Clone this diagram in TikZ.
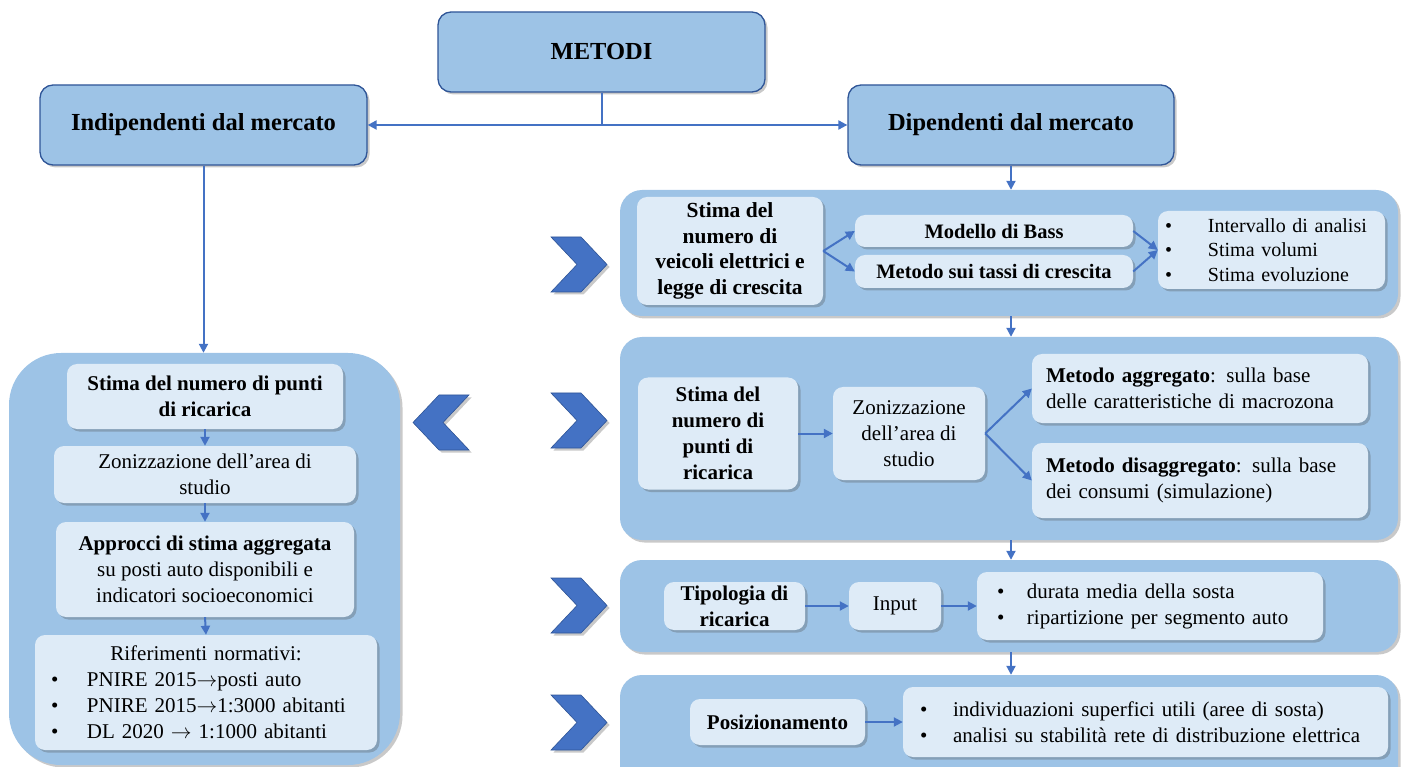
\documentclass[tikz,border=0pt]{standalone}
\usepackage{fontspec}
\setmainfont{Liberation Serif}
\usetikzlibrary{arrows.meta,shadows}
\definecolor{panelblue}{HTML}{9DC3E6}
\definecolor{innerblue}{HTML}{DEEBF7}
\definecolor{linkblue}{HTML}{4472C4}
\definecolor{edgeblue}{HTML}{2F5597}
% bullet entry: fixed-width bullet column followed by the item text
\newcommand\blt[2]{\makebox[#1][l]{\textbullet}#2}
% long arrow used inside the regulatory references
\newcommand\ra{\ensuremath{\rightarrow}}
\begin{document}
\begin{tikzpicture}[x=1pt,y=-1pt,
  softshadow/.style={drop shadow={shadow xshift=2.5pt,shadow yshift=-2.5pt,opacity=0.3,fill=black!70}},
  headbox/.style={draw=edgeblue,line width=1.3pt,fill=panelblue,rounded corners=13pt,softshadow,inner sep=0pt,
    font=\bfseries\fontsize{24.5}{29}\selectfont},
  panel/.style={fill=panelblue,rounded corners=22pt,softshadow,inner sep=0pt},
  card/.style={fill=innerblue,rounded corners=10pt,softshadow,inner sep=3pt,align=center},
  txt/.style={font=\fontsize{21}{26}\selectfont},
  btxt/.style={font=\bfseries\fontsize{21}{26}\selectfont},
  link/.style={draw=linkblue,line width=2pt,-{Triangle[length=9pt,width=9pt]}},
  bare/.style={draw=linkblue,line width=2pt},
  chevron/.style={fill=linkblue,draw=edgeblue,line width=0.6pt,softshadow},
  chevR/.pic={\path[chevron] (0,0)--(30,0)--(56,27.5)--(30,55)--(0,55)--(26,27.5)--cycle;},
  chevL/.pic={\path[chevron] (56,0)--(26,0)--(0,27.5)--(26,55)--(56,55)--(30,27.5)--cycle;}
]
\useasboundingbox (0,0) rectangle (1401,767);

% ---- top level ----
\node[headbox,minimum width=327pt,minimum height=80pt] (metodi) at (601.5,52) {METODI};
\node[headbox,minimum width=327pt,minimum height=80pt] (indip) at (203.5,125) {Indipendenti dal mercato};
\node[headbox,minimum width=326pt,minimum height=80pt] (dip) at (1011,125) {Dipendenti dal mercato};

\coordinate (split) at (metodi.south |- indip.east);
\draw[bare] (metodi.south) -- (split);
\draw[link] (split) -- (indip.east);
\draw[link] (split) -- (dip.west);

% ---- market-independent branch ----
\node[panel,rounded corners=52pt,minimum width=391pt,minimum height=412pt] (lpanel) at (204.5,559) {};
\draw[link] (indip.south) -- (indip.south |- lpanel.north);

\node[card,btxt,minimum width=276pt,minimum height=65pt] (l1) at (205,396.5)
  {Stima del numero di punti\\di ricarica};
\node[card,txt,minimum width=302pt,minimum height=57pt] (l2) at (205,474.5)
  {Zonizzazione dell’area di\\studio};
\node[card,txt,minimum width=298pt,minimum height=95pt] (l3) at (205,569.5)
  {\textbf{Approcci di stima aggregata}\\su posti auto disponibili e\\indicatori socioeconomici};
\node[card,txt,align=left,text width=310pt,inner xsep=16pt,minimum height=115pt] (l4) at (206,692.5)
  {\makebox[310pt]{Riferimenti normativi:}\\
   \blt{36pt}{PNIRE 2015\ra posti auto}\\
   \blt{36pt}{PNIRE 2015\ra 1:3000 abitanti}\\
   \blt{36pt}{DL 2020 \ra{} 1:1000 abitanti}};
\draw[link] (l1.south) -- (l2.north);
\draw[link] (l2.south) -- (l3.north);
\draw[link] (l3.south) -- (l4.north);

\pic at (413,395) {chevL};

% ---- market-dependent branch ----
\node[panel,minimum width=778pt,minimum height=126pt] (p1) at (1009,253) {};
\node[panel,minimum width=778pt,minimum height=203pt] (p2) at (1009,438.5) {};
\node[panel,minimum width=778pt,minimum height=92pt] (p3) at (1009,606) {};
\node[panel,minimum width=778pt,minimum height=115pt] (p4) at (1009,732.5) {};

\draw[link] (dip.south) -- (dip.south |- p1.north);
\draw[link] (p1.south -| dip.south) -- (p2.north -| dip.south);
\draw[link] (p2.south -| dip.south) -- (p3.north -| dip.south);
\draw[link] (p3.south -| dip.south) -- (p4.north -| dip.south);

% stage 1: vehicle estimate
\node[card,font=\bfseries\fontsize{21.5}{25.7}\selectfont,minimum width=186pt,minimum height=108pt] (v1) at (730,251)
  {Stima del\\numero di\\veicoli elettrici e\\legge di crescita};
\node[card,font=\bfseries\fontsize{20.5}{24}\selectfont,minimum width=278pt,minimum height=32pt] (bass) at (994,231)
  {Modello di Bass};
\node[card,font=\bfseries\fontsize{20.5}{24}\selectfont,minimum width=278pt,minimum height=33pt] (tassi) at (994,271.5)
  {Metodo sui tassi di crescita};
\node[card,font=\fontsize{20}{24.5}\selectfont,align=left,text width=213pt,inner xsep=7pt,minimum height=78pt] (b1) at (1271.5,250)
  {\blt{43pt}{Intervallo di analisi}\\\blt{43pt}{Stima volumi}\\\blt{43pt}{Stima evoluzione}};
\draw[link] (v1.east) -- (bass.west);
\draw[link] (v1.east) -- (tassi.west);
\draw[link] (bass.east) -- (b1.west);
\draw[link] (tassi.east) -- (b1.west);
\pic at (551,237) {chevR};

% stage 2: charging points
\node[card,btxt,minimum width=160pt,minimum height=112pt] (s2) at (718,433.5)
  {Stima del\\numero di\\punti di\\ricarica};
\node[card,txt,minimum width=152pt,minimum height=93pt] (z2) at (909,433.5)
  {Zonizzazione\\dell’area di\\studio};
\node[card,txt,align=left,text width=308pt,inner xsep=14pt,minimum height=69pt] (ag) at (1200,388.5)
  {\textbf{Metodo aggregato}: sulla base\\delle caratteristiche di macrozona};
\node[card,txt,align=left,text width=308pt,inner xsep=14pt,minimum height=75pt] (dis) at (1200,480.5)
  {\textbf{Metodo disaggregato}: sulla base\\dei consumi (simulazione)};
\draw[link] (s2.east) -- (z2.west);
\draw[link] (z2.east) -- (ag.west);
\draw[link] (z2.east) -- (dis.west);
\pic at (551,393) {chevR};

% stage 3: charging type
\node[card,btxt,minimum width=141pt,minimum height=48pt] (tip) at (734.5,606)
  {Tipologia di\\ricarica};
\node[card,txt,minimum width=92pt,minimum height=48pt] (inp) at (895,606) {Input};
\node[card,txt,align=left,text width=306pt,inner xsep=20pt,minimum height=68pt] (b3) at (1150,606)
  {\blt{30pt}{durata media della sosta}\\\blt{30pt}{ripartizione per segmento auto}};
\draw[link] (tip.east) -- (inp.west);
\draw[link] (inp.east) -- (b3.west);
\pic at (551,578) {chevR};

% stage 4: siting
\node[card,btxt,minimum width=175pt,minimum height=46pt] (pos) at (777.5,722) {Posizionamento};
\node[card,txt,align=left,text width=451pt,inner xsep=17pt,minimum height=70pt] (b4) at (1145.5,722)
  {\blt{33pt}{individuazioni superfici utili (aree di sosta)}\\\blt{33pt}{analisi su stabilità rete di distribuzione elettrica}};
\draw[link] (pos.east) -- (b4.west);
\pic at (551,695) {chevR};

\end{tikzpicture}
\end{document}
